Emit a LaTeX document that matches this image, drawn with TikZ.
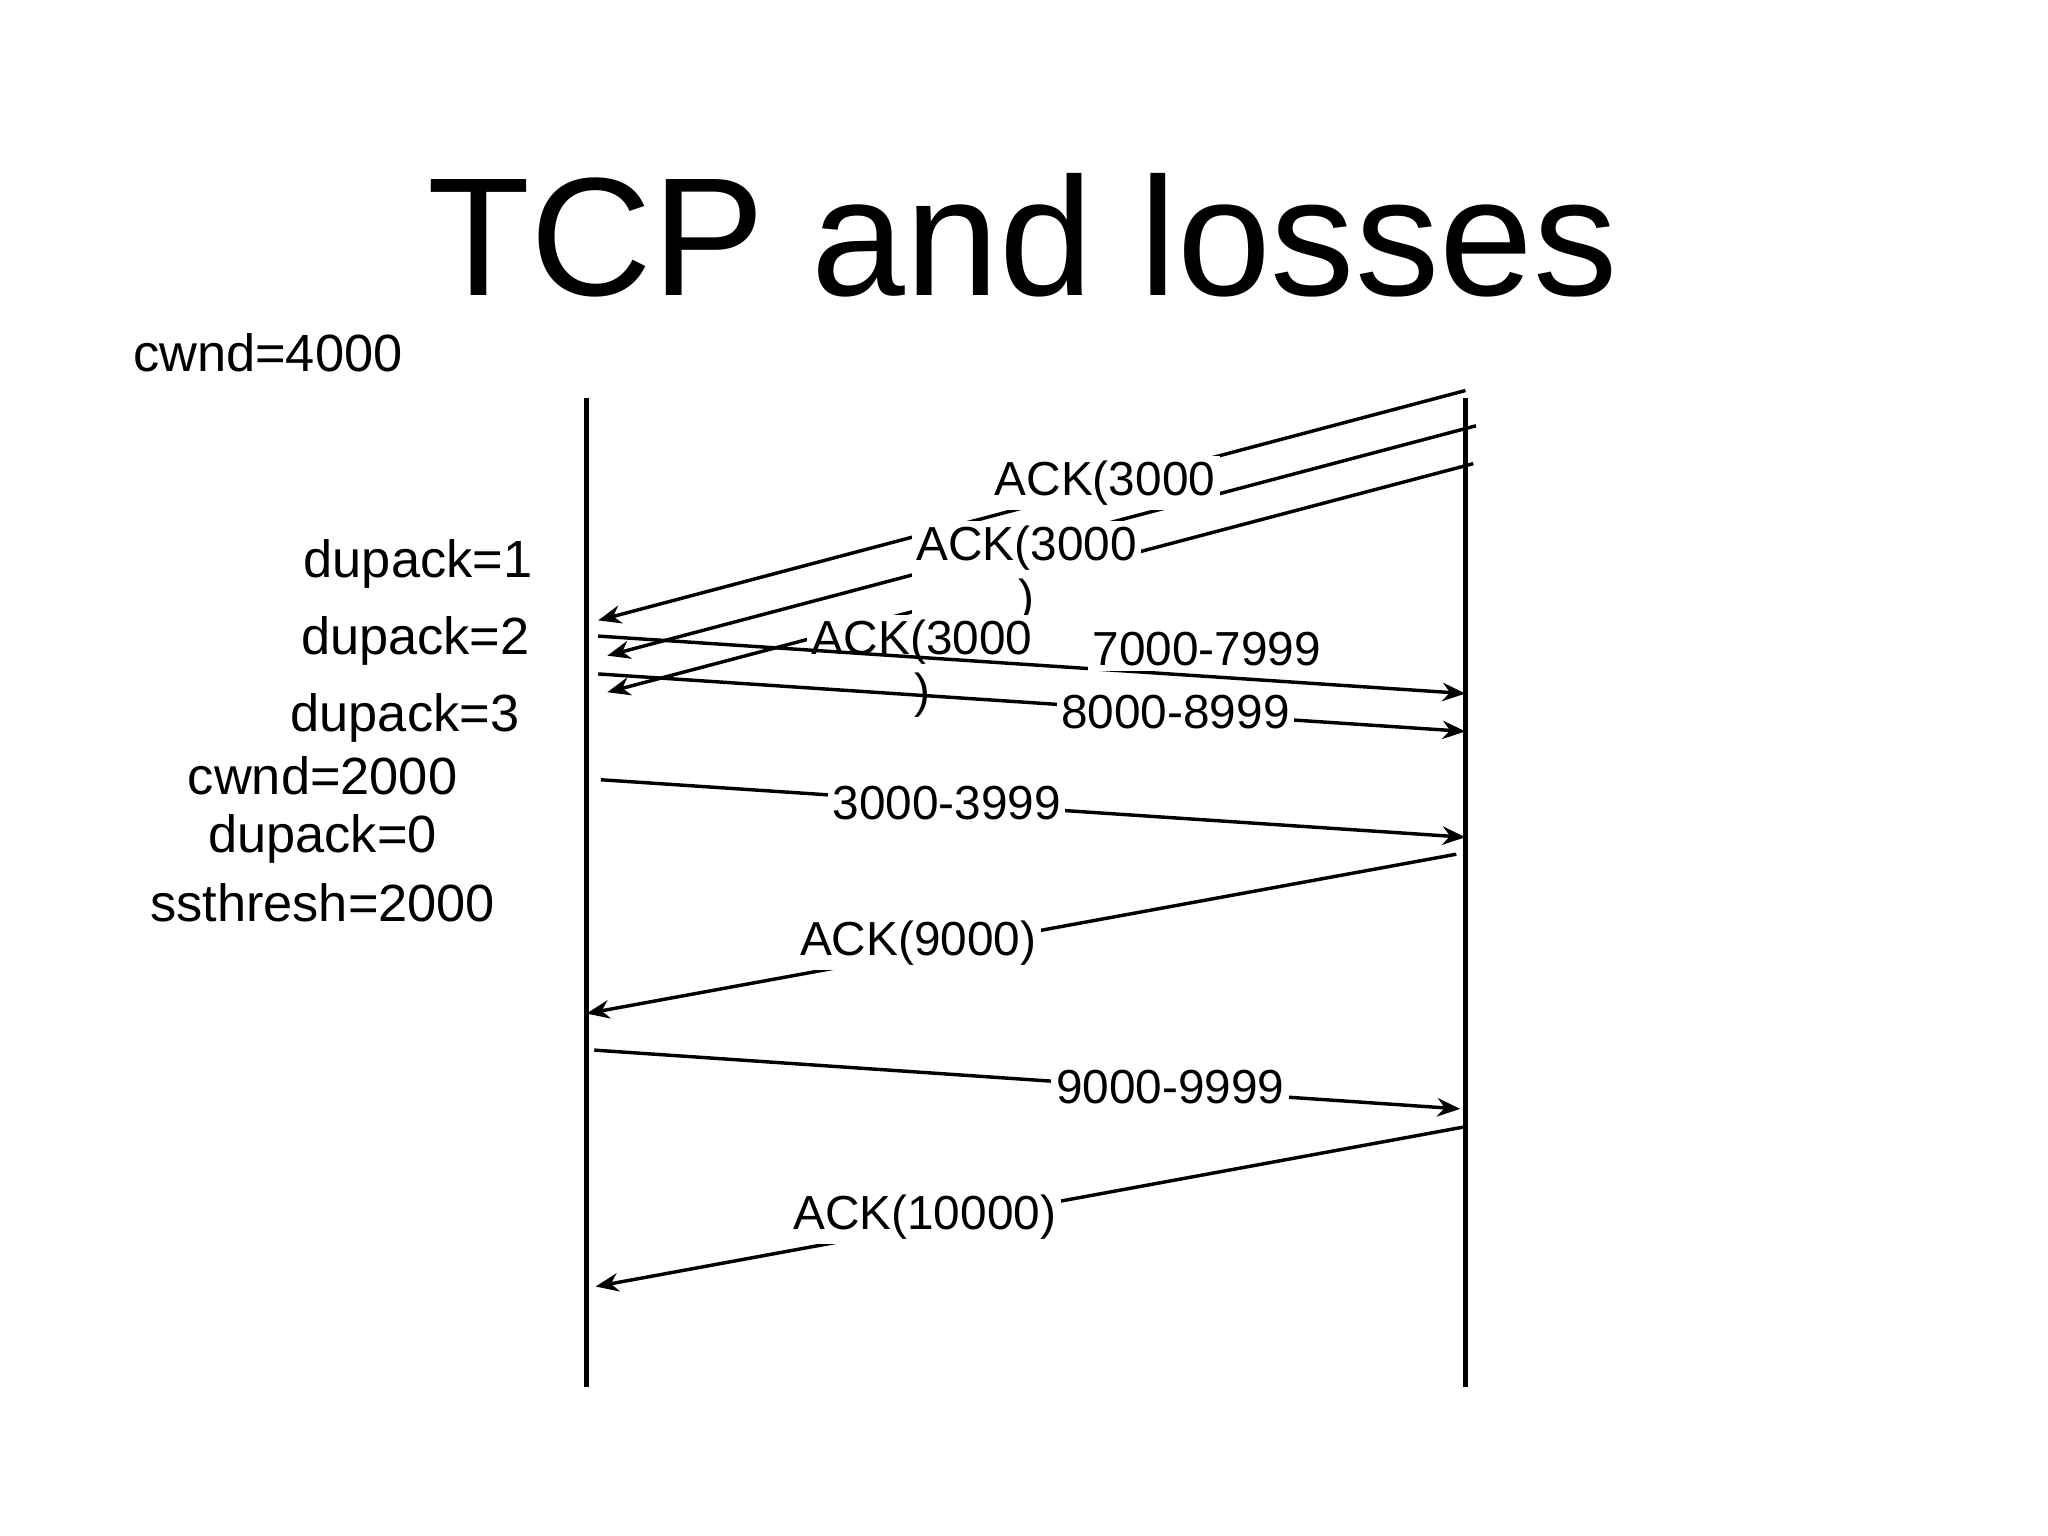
\documentclass[tikz,border=0pt]{standalone}
\usepackage{fontspec}
\setmainfont{Liberation Sans}
\usetikzlibrary{arrows.meta}
\begin{document}
\begin{tikzpicture}[x=0.01cm,y=-0.01cm,
  msg/.style={line width=0.75pt,-{Stealth[length=5pt,width=4pt]}},
  life/.style={line width=0.9pt},
  lbl/.style={fill=white,inner sep=1pt,font=\fontsize{10.4}{11.5}\selectfont},
  side/.style={font=\fontsize{11.4}{13}\selectfont}]
\useasboundingbox (0,0) rectangle (1568,1176);
\node (title) at (783,180) {\fontsize{36.7}{40}\selectfont TCP and losses};
\coordinate (L1) at (449,305); \coordinate (L2) at (449,1062);
\coordinate (R1) at (1122,305); \coordinate (R2) at (1122,1062);
\draw[life] (L1) -- (L2);
\draw[life] (R1) -- (R2);
% ACK lines
\coordinate (a1s) at (1122,299); \coordinate (a1e) at (458,475);
\coordinate (a2s) at (1130,326); \coordinate (a2e) at (465,502);
\coordinate (a3s) at (1128,355); \coordinate (a3e) at (465,530);
\draw[msg] (a1s) -- (a1e);
\draw[msg] (a2s) -- (a2e);
\draw[msg] (a3s) -- (a3e);
\node[lbl] (k1) at (846,370) {ACK(3000};
\node[lbl,align=center] (k2) at (786,440) {ACK(3000\\)};
\node[lbl,align=center] (k3) at (706,512) {ACK(3000\\)};
% data lines
\coordinate (d1s) at (458,487); \coordinate (d1e) at (1122,531);
\coordinate (d2s) at (458,516); \coordinate (d2e) at (1122,560);
\draw[msg] (d1s) -- (d1e);
\draw[msg] (d2s) -- (d2e);
\node[lbl] (s1) at (924,497) {7000-7999};
\node[lbl] (s2) at (900,545) {8000-8999};
\coordinate (d3s) at (460,597); \coordinate (d3e) at (1122,641);
\draw[msg] (d3s) -- (d3e) node[lbl,pos=0.4] (s3) {3000-3999};
\coordinate (a4s) at (1115,654); \coordinate (a4e) at (449,776);
\draw[msg] (a4s) -- (a4e);
\node[lbl] (k4) at (703,722) {ACK(9000)};
\coordinate (d4s) at (455,804); \coordinate (d4e) at (1118,849);
\draw[msg] (d4s) -- (d4e);
\node[lbl] (s4) at (896,832) {9000-9999};
\coordinate (a5s) at (1120,863); \coordinate (a5e) at (456,985);
\draw[msg] (a5s) -- (a5e);
\node[lbl] (k5) at (708,932) {ACK(10000)};
% side text
\node[side] (t1) at (205,270) {cwnd=4000};
\node[side] (t2) at (320,432) {dupack=1};
\node[side] (t3) at (318,491) {dupack=2};
\node[side] (t4) at (310,550) {dupack=3};
\node[side] (t5) at (247,594) {cwnd=2000};
\node[side] (t6) at (247,642) {dupack=0};
\node[side] (t7) at (247,691) {ssthresh=2000};
\end{tikzpicture}
\end{document}
